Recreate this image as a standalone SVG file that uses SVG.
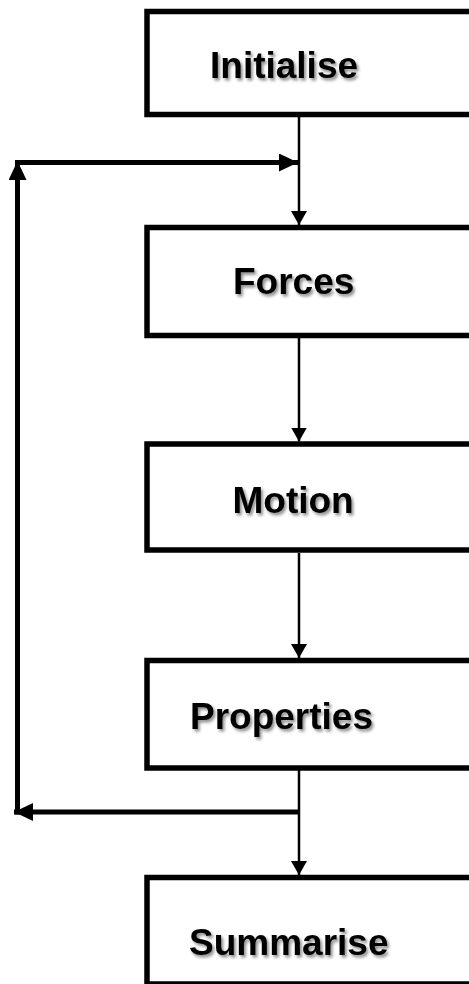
<svg xmlns="http://www.w3.org/2000/svg" width="469" height="984" viewBox="0 0 469 984">
  <style>
    .box { fill: #ffffff; stroke: #000000; stroke-width: 5.5; }
    .label { font-family: "Liberation Sans", Arial, sans-serif; font-weight: bold; font-size: 37px; fill: #000000; filter: url(#soft-shadow); }
    .flow { fill: none; stroke: #000000; stroke-width: 2.5; }
    .loop { fill: none; stroke: #000000; stroke-width: 5; }
  </style>
  <defs>
    <filter id="soft-shadow" x="-10%" y="-20%" width="130%" height="160%">
      <feDropShadow dx="2" dy="2.5" stdDeviation="1.6" flood-color="#000000" flood-opacity="0.45"/>
    </filter>
    <marker id="arrow-thin" markerUnits="userSpaceOnUse" markerWidth="14" markerHeight="16" refX="14" refY="8" orient="auto">
      <path d="M0,0 L14,8 L0,16 z" fill="#000000"/>
    </marker>
    <marker id="arrow-thick" markerUnits="userSpaceOnUse" markerWidth="19" markerHeight="18" refX="19" refY="9" orient="auto">
      <path d="M0,0 L19,9 L0,18 z" fill="#000000"/>
    </marker>
  </defs>

  <rect width="469" height="984" fill="#ffffff"/>

  <g id="connectors">
    <line class="flow" x1="299" y1="117" x2="299" y2="225" marker-end="url(#arrow-thin)"/>
    <line class="flow" x1="299" y1="338" x2="299" y2="441.5" marker-end="url(#arrow-thin)"/>
    <line class="flow" x1="299" y1="553" x2="299" y2="658" marker-end="url(#arrow-thin)"/>
    <line class="flow" x1="299" y1="770" x2="299" y2="875" marker-end="url(#arrow-thin)"/>
    <!-- repeat loop back to the top -->
    <line class="loop" x1="299" y1="812" x2="14" y2="812" marker-end="url(#arrow-thick)"/>
    <line class="loop" x1="17.5" y1="814.5" x2="17.5" y2="161" marker-end="url(#arrow-thick)"/>
    <line class="loop" x1="15" y1="162.5" x2="298" y2="162.5" marker-end="url(#arrow-thick)"/>
  </g>

  <g id="initialise">
    <rect class="box" x="147" y="11.5" width="340" height="103"/>
    <text class="label" x="210" y="78">Initialise</text>
  </g>
  <g id="forces">
    <rect class="box" x="147" y="227.5" width="340" height="108"/>
    <text class="label" x="233" y="294">Forces</text>
  </g>
  <g id="motion">
    <rect class="box" x="147" y="444" width="340" height="106"/>
    <text class="label" x="232.5" y="512.5">Motion</text>
  </g>
  <g id="properties">
    <rect class="box" x="147" y="660.5" width="340" height="107.5"/>
    <text class="label" x="190" y="729">Properties</text>
  </g>
  <g id="summarise">
    <rect class="box" x="147" y="877.5" width="340" height="106.5"/>
    <text class="label" x="189" y="955">Summarise</text>
  </g>
</svg>
